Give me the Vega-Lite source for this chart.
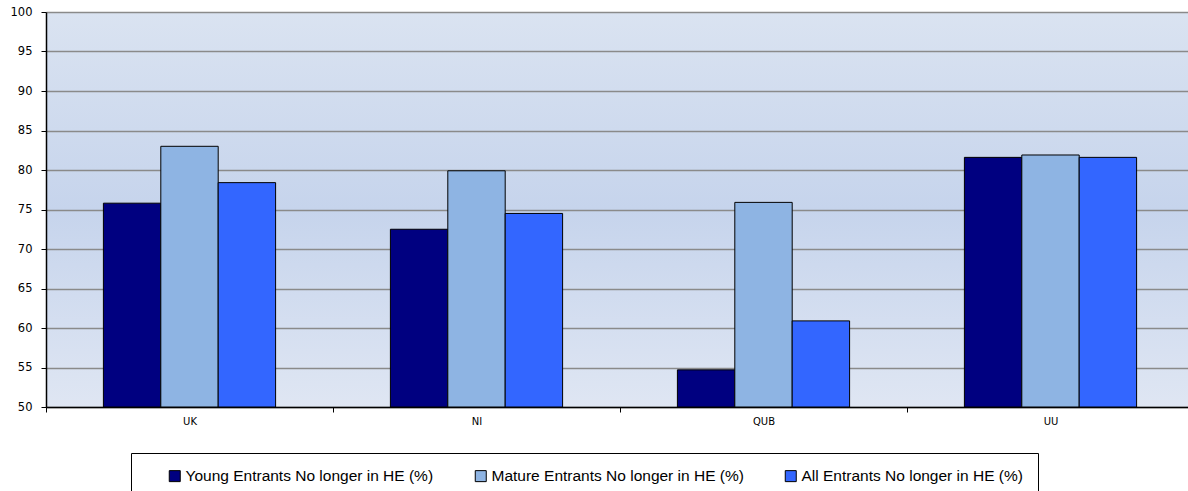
{
  "$schema": "https://vega.github.io/schema/vega-lite/v6.json",
  "autosize": {"type": "none"},
  "padding": {"left": 46, "top": 12, "right": 0, "bottom": 84},
  "width": 1142,
  "height": 395,
  "background": "white",
  "data": {
    "values": [
      {"inst": "UK", "series": "Young Entrants No longer in HE (%)", "value": 75.8},
      {"inst": "UK", "series": "Mature Entrants No longer in HE (%)", "value": 83.0},
      {"inst": "UK", "series": "All Entrants No longer in HE (%)", "value": 78.4},
      {"inst": "NI", "series": "Young Entrants No longer in HE (%)", "value": 72.5},
      {"inst": "NI", "series": "Mature Entrants No longer in HE (%)", "value": 79.9},
      {"inst": "NI", "series": "All Entrants No longer in HE (%)", "value": 74.5},
      {"inst": "QUB", "series": "Young Entrants No longer in HE (%)", "value": 54.7},
      {"inst": "QUB", "series": "Mature Entrants No longer in HE (%)", "value": 75.9},
      {"inst": "QUB", "series": "All Entrants No longer in HE (%)", "value": 60.9},
      {"inst": "UU", "series": "Young Entrants No longer in HE (%)", "value": 81.6},
      {"inst": "UU", "series": "Mature Entrants No longer in HE (%)", "value": 81.9},
      {"inst": "UU", "series": "All Entrants No longer in HE (%)", "value": 81.6}
    ]
  },
  "mark": {"type": "bar", "stroke": "black", "strokeWidth": 1},
  "encoding": {
    "x": {
      "field": "inst",
      "type": "nominal",
      "sort": ["UK", "NI", "QUB", "UU"],
      "scale": {"range": [0, 1148], "paddingInner": 0, "paddingOuter": 0},
      "axis": {
        "title": null,
        "labelAngle": 0,
        "tickBand": "extent",
        "domainColor": "black",
        "domainWidth": 1.5,
        "tickColor": "black",
        "tickSize": 5,
        "labelPadding": 4,
        "labelFont": "DejaVu Sans",
        "labelFontSize": 10,
        "labelColor": "black",
        "grid": false
      }
    },
    "xOffset": {
      "field": "series",
      "type": "nominal",
      "sort": ["Young Entrants No longer in HE (%)", "Mature Entrants No longer in HE (%)", "All Entrants No longer in HE (%)"],
      "scale": {"paddingInner": 0, "paddingOuter": 1.0}
    },
    "y": {
      "field": "value",
      "type": "quantitative",
      "scale": {"domain": [50, 100], "zero": false, "nice": false},
      "axis": {
        "title": null,
        "values": [50, 55, 60, 65, 70, 75, 80, 85, 90, 95, 100],
        "domainColor": "black",
        "domainWidth": 1.5,
        "tickColor": "black",
        "tickSize": 5,
        "labelPadding": 9,
        "labelFont": "DejaVu Sans",
        "labelFontSize": 11.5,
        "labelColor": "black",
        "gridColor": "#8a8a8a",
        "gridWidth": 1.3
      }
    },
    "y2": {"datum": 50},
    "color": {
      "field": "series",
      "type": "nominal",
      "sort": ["Young Entrants No longer in HE (%)", "Mature Entrants No longer in HE (%)", "All Entrants No longer in HE (%)"],
      "scale": {"range": ["#000080", "#8eb4e3", "#3366ff"]},
      "legend": {
        "title": null,
        "orient": "none",
        "direction": "horizontal",
        "legendX": 85,
        "legendY": 441,
        "padding": 15,
        "strokeColor": "black",
        "fillColor": "white",
        "symbolType": "square",
        "symbolSize": 121,
        "symbolStrokeColor": "black",
        "symbolStrokeWidth": 1,
        "symbolOpacity": 1,
        "symbolOffset": 21,
        "labelFont": "Liberation Sans",
        "labelFontSize": 15.5,
        "labelColor": "black",
        "labelOffset": 3,
        "labelLimit": 0,
        "columnPadding": 18
      }
    }
  },
  "config": {
    "view": {
      "stroke": null,
      "fill": {
        "gradient": "linear",
        "x1": 0, "y1": 0, "x2": 0, "y2": 1,
        "stops": [
          {"offset": 0, "color": "#dae3f1"},
          {"offset": 0.5, "color": "#c6d4ec"},
          {"offset": 1, "color": "#dfe6f3"}
        ]
      }
    }
  }
}
